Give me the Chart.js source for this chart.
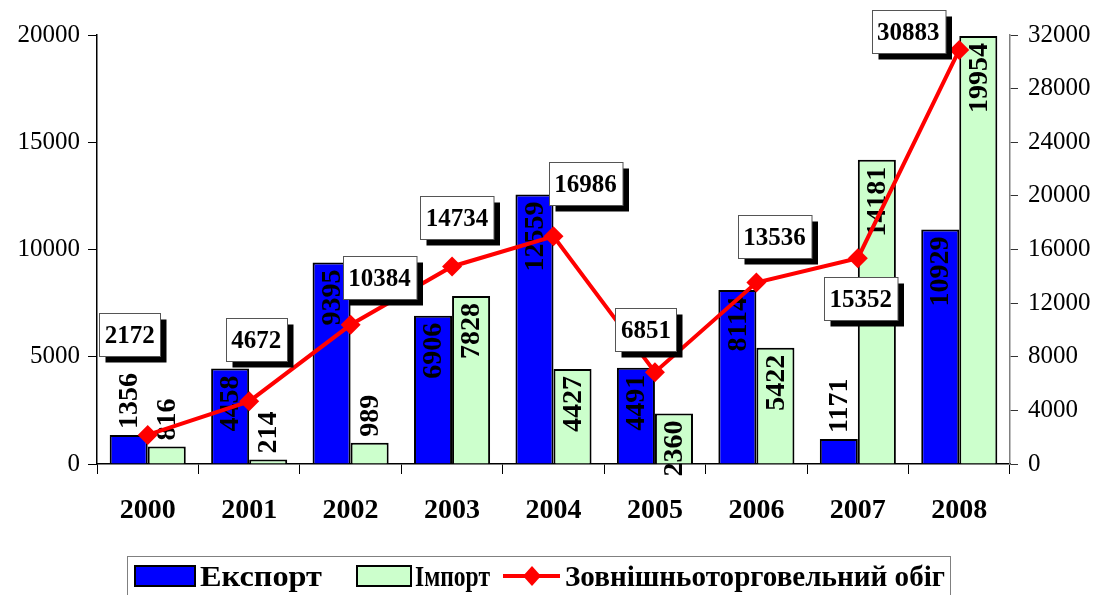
<!DOCTYPE html>
<html>
<head>
<meta charset="utf-8">
<script src="https://cdn.jsdelivr.net/npm/chart.js@4.4.1/dist/chart.umd.min.js"></script>
<style>
  html, body { margin: 0; padding: 0; background: #fff; }
  #wrap { width: 1095px; height: 595px; }
</style>
</head>
<body>
<div id="wrap"><canvas id="chart" width="1095" height="595"></canvas></div>
<script>
// Data
const years = ['2000', '2001', '2002', '2003', '2004', '2005', '2006', '2007', '2008'];
const exportValues = [1356, 4458, 9395, 6906, 12559, 4491, 8114, 1171, 10929];
const importValues = [816, 214, 989, 7828, 4427, 2360, 5422, 14181, 19954];
const turnoverValues = [2172, 4672, 10384, 14734, 16986, 6851, 13536, 15352, 30883];
const leftTicks = [0, 5000, 10000, 15000, 20000];
const rightTicks = [0, 4000, 8000, 12000, 16000, 20000, 24000, 28000, 32000];
const seriesNames = ['Експорт', 'Імпорт', 'Зовнішньоторговельний обіг'];

// where each boxed turnover label sits relative to its point (box centre)
const boxOffsets = [[-18, -100], [7, -62], [29, -47], [5, -49], [32, -53], [-9, -43], [18, -46], [3, 40], [-51, -18]];

const SERIF = '"Liberation Serif", "Times New Roman", serif';

// rotated value labels in the bars
const barLabels = {
  id: 'barLabels',
  afterDatasetDraw(chart, args) {
    const ds = chart.data.datasets[args.index];
    if (ds.type === 'line') return;
    const ctx = chart.ctx;
    ctx.save();
    ctx.font = 'bold 28px ' + SERIF;
    ctx.fillStyle = '#000';
    ctx.textBaseline = 'middle';
    args.meta.data.forEach((bar, i) => {
      const txt = String(ds.data[i]);
      const len = ctx.measureText(txt).width;
      const h = bar.base - bar.y;
      ctx.save();
      ctx.translate(bar.x + 1, bar.y);
      ctx.rotate(-Math.PI / 2);
      if (h >= len * 0.75) {
        ctx.textAlign = 'right';
        ctx.fillText(txt, -7, 0);
      } else {
        ctx.textAlign = 'left';
        ctx.fillText(txt, 6, 0);
      }
      ctx.restore();
    });
    ctx.restore();
  }
};

// boxed labels with drop shadow for the line, plus the framed legend
const boxLabels = {
  id: 'boxLabels',
  afterDatasetsDraw(chart) {
    const ctx = chart.ctx;
    const meta = chart.getDatasetMeta(2);
    ctx.save();
    ctx.font = 'bold 25px ' + SERIF;
    ctx.textAlign = 'center';
    ctx.textBaseline = 'middle';
    meta.data.forEach((pt, i) => {
      const txt = String(turnoverValues[i]);
      const w = ctx.measureText(txt).width + 11;
      const h = 43;
      const cx = pt.x + boxOffsets[i][0];
      const cy = pt.y + boxOffsets[i][1];
      const x = Math.round(cx - w / 2) + 0.5, y = Math.round(cy - h / 2) + 0.5;
      ctx.fillStyle = '#000';
      ctx.fillRect(x + 6, y + 6, w, h);
      ctx.fillStyle = '#fff';
      ctx.fillRect(x, y, w, h);
      ctx.strokeStyle = '#555';
      ctx.lineWidth = 1;
      ctx.strokeRect(x, y, w, h);
      ctx.fillStyle = '#000';
      ctx.fillText(txt, cx, cy + 2);
    });
    ctx.restore();
  },
  afterDraw(chart) {
    const ctx = chart.ctx;
    const ds = chart.data.datasets;
    ctx.save();
    ctx.strokeStyle = '#808080';
    ctx.lineWidth = 1;
    ctx.strokeRect(127.5, 556.5, 823, 45);

    const drawText = (txt, x, width) => {
      ctx.save();
      ctx.font = 'bold 30px ' + SERIF;
      ctx.textAlign = 'left';
      ctx.textBaseline = 'middle';
      const m = ctx.measureText(txt).width;
      ctx.translate(x, 578);
      ctx.scale(width / m, 1);
      ctx.fillStyle = '#000';
      ctx.fillText(txt, 0, 0);
      ctx.restore();
    };

    // export swatch
    ctx.fillStyle = ds[0].backgroundColor;
    ctx.fillRect(135, 566, 60, 20);
    ctx.strokeStyle = '#000';
    ctx.lineWidth = 2;
    ctx.strokeRect(135, 566, 60, 20);
    drawText(ds[0].label, 200, 122);

    // import swatch
    ctx.fillStyle = ds[1].backgroundColor;
    ctx.fillRect(357, 566, 54, 20);
    ctx.strokeRect(357, 566, 54, 20);
    drawText(ds[1].label, 415, 75);

    // line swatch
    ctx.strokeStyle = ds[2].borderColor;
    ctx.lineWidth = 4;
    ctx.beginPath();
    ctx.moveTo(503, 576);
    ctx.lineTo(560, 576);
    ctx.stroke();
    ctx.fillStyle = ds[2].borderColor;
    ctx.beginPath();
    ctx.moveTo(532, 566); ctx.lineTo(541, 576); ctx.lineTo(532, 586); ctx.lineTo(523, 576);
    ctx.closePath();
    ctx.fill();
    drawText(ds[2].label, 565, 380);
    ctx.restore();
  }
};

const plain = v => String(v);

const ctx = document.getElementById('chart').getContext('2d');
new Chart(ctx, {
  data: {
    labels: years,
    datasets: [
      {
        type: 'bar', label: seriesNames[0], data: exportValues, yAxisID: 'y',
        backgroundColor: '#0000FF', borderColor: '#000', borderWidth: 2,
        categoryPercentage: 0.75, barPercentage: 1, order: 1
      },
      {
        type: 'bar', label: seriesNames[1], data: importValues, yAxisID: 'y',
        backgroundColor: '#CCFFCC', borderColor: '#000', borderWidth: 2,
        categoryPercentage: 0.75, barPercentage: 1, order: 1
      },
      {
        type: 'line', label: seriesNames[2], data: turnoverValues, yAxisID: 'y1',
        borderColor: '#FF0000', backgroundColor: '#FF0000', borderWidth: 4,
        pointStyle: 'rectRot', pointRadius: 10, pointBorderWidth: 0,
        tension: 0, order: 0
      }
    ]
  },
  options: {
    responsive: false,
    animation: false,
    layout: { padding: { top: 35, left: 0, right: 0, bottom: 0 } },
    plugins: { legend: { display: false }, tooltip: { enabled: false } },
    scales: {
      x: {
        grid: { display: true, drawOnChartArea: false, offset: true, tickLength: 10, color: '#000', tickColor: '#000' },
        border: { color: '#000', width: 1.5 },
        ticks: { color: '#000', font: { family: SERIF, size: 28, weight: 'bold' }, padding: 20 },
        afterFit(scale) { scale.height = 131; }
      },
      y: {
        position: 'left', min: 0, max: 20000,
        afterBuildTicks(scale) { scale.ticks = leftTicks.map(v => ({ value: v })); },
        grid: { display: true, drawOnChartArea: false, tickLength: 9, tickColor: '#000' },
        border: { color: '#000', width: 1.5 },
        ticks: { color: '#000', font: { family: SERIF, size: 25 }, padding: 8, callback: plain },
        afterFit(scale) { scale.width = 97; }
      },
      y1: {
        position: 'right', min: 0, max: 32000,
        afterBuildTicks(scale) { scale.ticks = rightTicks.map(v => ({ value: v })); },
        grid: { display: true, drawOnChartArea: false, tickLength: 8, tickColor: '#333' },
        border: { color: '#808080', width: 1.5 },
        ticks: { color: '#000', font: { family: SERIF, size: 25 }, padding: 10, callback: plain },
        afterFit(scale) { scale.width = 85; }
      }
    }
  },
  plugins: [barLabels, boxLabels]
});
</script>
</body>
</html>
